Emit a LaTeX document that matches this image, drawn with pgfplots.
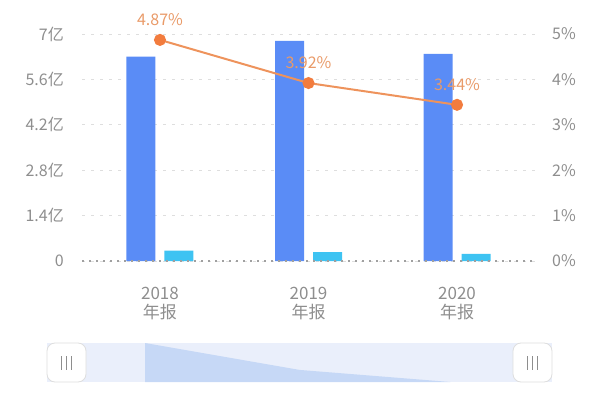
\documentclass[border=0pt]{standalone}
\usepackage{pgfplots}
\pgfplotsset{compat=1.18}
\usepackage{fontspec}
\setmainfont{Noto Sans CJK SC}
\definecolor{barblue}{HTML}{5A8CF6}
\definecolor{barcyan}{HTML}{3EC3F2}
\definecolor{lineor}{HTML}{EE935C}
\definecolor{markor}{HTML}{F27C3E}
\definecolor{labor}{HTML}{E99A68}
\definecolor{ticktxt}{HTML}{8E8E8E}
\definecolor{gridc}{HTML}{DEDEDE}
\definecolor{zeroc}{HTML}{A0A0A0}
\definecolor{bandc}{HTML}{EAEFFB}
\definecolor{shadowc}{HTML}{C6D8F6}

\begin{document}
\begin{tikzpicture}[x=1pt,y=1pt]
\path[use as bounding box] (0,0) rectangle (600,400);

% left axis: bars (yi yuan)
\begin{axis}[
  at={(82pt,139pt)}, anchor=south west,
  scale only axis, width=453pt, height=227pt,
  xmin=-0.525, xmax=2.525,
  ymin=0, ymax=7,
  axis line style={draw=none},
  ybar=9pt, bar width=29pt,
  xtick={0,1,2},
  xticklabels={2018\\年报,2019\\年报,2020\\年报},
  xticklabel style={align=center, font=\fontsize{17}{19}\selectfont, text=ticktxt, inner sep=0pt, yshift=-26pt},
  ytick={0,1.4,2.8,4.2,5.6,7},
  yticklabels={0,1.4亿,2.8亿,4.2亿,5.6亿,7亿},
  yticklabel style={font=\fontsize{16}{18}\selectfont, text=ticktxt, inner sep=0pt, xshift=-18pt},
  major tick length=0pt,
  ymajorgrids,
  grid style={gridc, line width=1pt, dash pattern=on 3pt off 6pt},
  clip=false,
]
\addplot[draw=none, fill=barblue] coordinates {(0,6.30) (1,6.79) (2,6.39)};
\addplot[draw=none, fill=barcyan] coordinates {(0,0.32) (1,0.27) (2,0.22)};
\draw[zeroc, line width=1.2pt, dash pattern=on 2pt off 5pt] (axis cs:-0.525,0) -- (axis cs:2.525,0);
\end{axis}

% right axis: percentage line
\begin{axis}[
  at={(82pt,139pt)}, anchor=south west,
  scale only axis, width=453pt, height=227pt,
  xmin=-0.525, xmax=2.525,
  ymin=0, ymax=5,
  axis line style={draw=none},
  xtick=\empty,
  ytick={0,1,2,3,4,5},
  yticklabels={0\%,1\%,2\%,3\%,4\%,5\%},
  yticklabel pos=right,
  yticklabel style={font=\fontsize{16}{18}\selectfont, text=ticktxt, inner sep=0pt, anchor=west, xshift=17pt},
  major tick length=0pt,
  clip=false,
]
\addplot[lineor, line width=2pt, mark=*, mark size=5pt,
  mark options={fill=markor, draw=markor},
  nodes near coords, point meta=explicit symbolic,
  every node near coord/.style={font=\fontsize{16}{18}\selectfont, text=labor, anchor=center, yshift=20pt}]
  table[meta=lab] {
  x y lab
  0 4.87 4.87\%
  1 3.92 3.92\%
  2 3.44 3.44\%
  };
\end{axis}

% data-zoom slider
\fill[bandc] (47,18) rectangle (552,57);
\begin{axis}[
  at={(145pt,18pt)}, anchor=south west,
  scale only axis, width=368pt, height=39pt,
  xmin=0, xmax=1, ymin=0, ymax=1,
  hide axis,
]
\addplot[draw=none, fill=shadowc] coordinates {(0,0) (0,1) (0.42,0.31) (0.83,0) (0,0)};
\end{axis}
\foreach \hx in {47,513} {
  \draw[gridc, fill=white, rounded corners=8pt, line width=0.8pt] (\hx,18) rectangle (\hx+39,57);
  \foreach \dx in {-5,0,5}
    \draw[ticktxt, line width=1.4pt] (\hx+19.5+\dx,30.5) -- (\hx+19.5+\dx,44.5);
}
\end{tikzpicture}
\end{document}
